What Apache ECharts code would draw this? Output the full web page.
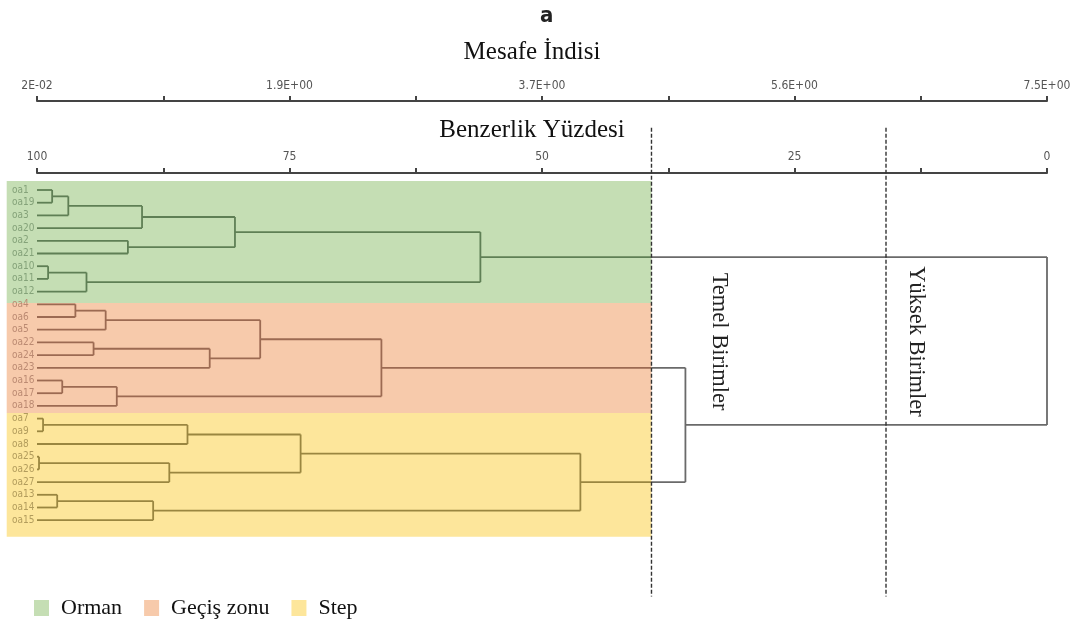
<!DOCTYPE html>
<html><head><meta charset="utf-8">
<script src="https://cdn.jsdelivr.net/npm/echarts@6/dist/echarts.min.js"></script>
<style>html,body{margin:0;padding:0;background:#fff}#c{width:1075px;height:630px}</style>
</head><body><div id="c"></div><script>
// ---- data ----
const leaves = ['oa1','oa19','oa3','oa20','oa2','oa21','oa10','oa11','oa12',
  'oa4','oa6','oa5','oa22','oa24','oa23','oa16','oa17','oa18',
  'oa7','oa9','oa8','oa25','oa26','oa27','oa13','oa14','oa15'];
// [child A, child B, similarity %]; a number refers to an earlier merge
const merges = [
  ['oa1','oa19',98.5], [0,'oa3',96.9], [1,'oa20',89.6], ['oa2','oa21',91.0],
  [2,3,80.4], ['oa10','oa11',98.9], [5,'oa12',95.1], [4,6,56.1],
  ['oa4','oa6',96.2], [8,'oa5',93.2], ['oa22','oa24',94.4], [10,'oa23',82.9],
  [9,11,77.9], ['oa16','oa17',97.5], [13,'oa18',92.1], [12,14,65.9],
  ['oa7','oa9',99.4], [16,'oa8',85.1], ['oa25','oa26',99.8], [18,'oa27',86.9],
  [17,19,73.9], ['oa13','oa14',98.0], [21,'oa15',88.5], [20,22,46.2],
  [15,23,35.8], [7,24,0.0]
];
const distTickLabels = ['2E-02','1.9E+00','3.7E+00','5.6E+00','7.5E+00'];
const simTickLabels = ['100','75','50','25','0'];
const groupNames = ['Orman','Geçiş zonu','Step'];
const groupRows = [[-0.7, 8.9], [8.9, 17.56], [17.56, 27.3]];
const cutLevels = [39.16, 15.94];
const cutNames = ['Temel Birimler', 'Yüksek Birimler'];
const cutLabelAt = [32.5, 13.0];

// ---- styles ----
const groupColors = ['#c5deb4', '#f7caab', '#fde69b'];
const groupLineColors = ['#5f7f55', '#9c6a52', '#9a8640'];
const groupLabelColors = ['#84a279', '#bb8a72', '#b29c5c'];
const PLAIN_LINE = '#6a6a6a';
const SERIF = "'Liberation Serif','Times New Roman',serif";
const NARROW = "'Liberation Sans Narrow','DejaVu Sans Condensed','Arial Narrow',sans-serif";
const BAND_LEFT = 103;
const CUT_TOP = -4.9, CUT_BOTTOM = 32.0, CUT_LABEL_ROW = 11.93;

// ---- layout of dendrogram nodes ----
const mergeY = [];
function pos(ref) {
  if (typeof ref === 'string') return [100, leaves.indexOf(ref)];
  return [merges[ref][2], mergeY[ref]];
}
const linkData = merges.map((m, i) => {
  const a = pos(m[0]), b = pos(m[1]);
  mergeY[i] = (a[1] + b[1]) / 2;
  return [a[0], a[1], b[0], b[1], m[2]];
});
function groupOfRow(r) {
  for (let i = 0; i < groupRows.length; i++) if (r >= groupRows[i][0] && r < groupRows[i][1]) return i;
  return -1;
}
function colorAt(sim, row) {
  const g = groupOfRow(row);
  return (g >= 0 && sim >= cutLevels[0]) ? groupLineColors[g] : PLAIN_LINE;
}

const chart = echarts.init(document.getElementById('c'));
const topAxisCommon = {
  type: 'value', position: 'top',
  axisLine: {lineStyle: {color: '#444', width: 2}},
  axisTick: {length: 5, lineStyle: {color: '#444', width: 2}},
  splitLine: {show: false},
  nameLocation: 'middle',
  nameTextStyle: {fontFamily: SERIF, fontSize: 25, color: '#111', padding: [0, 20, 0, 0]}
};
function lineEl(x1, y1, x2, y2, c) {
  return {type: 'line', shape: {x1: x1, y1: y1, x2: x2, y2: y2},
    style: {stroke: c, lineWidth: 1.8}};
}
const option = {
  backgroundColor: '#fff',
  animation: false,
  title: {text: 'a', left: 535, top: 0,
    textStyle: {fontFamily: NARROW, fontWeight: 'bold', fontSize: 22, color: '#222'}},
  legend: {data: groupNames, left: 29, top: 592, icon: 'rect', itemWidth: 15, itemHeight: 16,
    itemGap: 22, selectedMode: false,
    textStyle: {fontFamily: SERIF, fontSize: 22, color: '#111', padding: [0, 0, 0, 7]}},
  grid: [
    {left: 37, right: 28, top: 100, height: 1},
    {left: 37, right: 28, top: 172, height: 1},
    {left: 37, right: 28, top: 177.3, height: 368.3}
  ],
  xAxis: [
    Object.assign({}, topAxisCommon, {gridIndex: 0, min: 0, max: 8, interval: 1,
      name: 'Mesafe İndisi', nameGap: 35,
      axisLabel: {formatter: v => (v % 2 === 0 ? distTickLabels[v / 2] : ''), margin: 8,
        color: '#555', fontFamily: NARROW, fontSize: 12}}),
    Object.assign({}, topAxisCommon, {gridIndex: 1, min: 0, max: 100, interval: 12.5, inverse: true,
      name: 'Benzerlik Yüzdesi', nameGap: 29,
      axisLabel: {formatter: v => (v % 25 === 0 ? simTickLabels[(100 - v) / 25] : ''), margin: 9,
        color: '#555', fontFamily: NARROW, fontSize: 12}}),
    {gridIndex: 2, type: 'value', min: 0, max: 100, inverse: true, show: false}
  ],
  yAxis: [
    {gridIndex: 0, type: 'value', show: false},
    {gridIndex: 1, type: 'value', show: false},
    {gridIndex: 2, type: 'value', inverse: true, min: -1, max: 28, interval: 1,
      axisLine: {show: false}, axisTick: {show: false}, splitLine: {show: false},
      axisLabel: {formatter: v => leaves[v] || '', align: 'left', margin: 25,
        color: (v) => { const g = groupOfRow(Number(v)); return g >= 0 ? groupLabelColors[g] : '#999'; },
        fontSize: 10, fontFamily: NARROW}}
  ],
  series: groupNames.map((name, i) => ({
    type: 'custom', name: name, xAxisIndex: 2, yAxisIndex: 2, z: -1, silent: true,
    itemStyle: {color: groupColors[i]},
    data: [[BAND_LEFT, cutLevels[0], groupRows[i][0], groupRows[i][1]]],
    renderItem: (p, api) => {
      const p0 = api.coord([api.value(0), api.value(2)]);
      const p1 = api.coord([api.value(1), api.value(3)]);
      return {type: 'rect', z2: -10,
        shape: {x: p0[0], y: p0[1], width: p1[0] - p0[0], height: p1[1] - p0[1]},
        style: {fill: groupColors[i]}};
    }
  })).concat([
    {
      type: 'custom', name: 'links', xAxisIndex: 2, yAxisIndex: 2, z: 2, silent: true,
      data: linkData,
      renderItem: (p, api) => {
        const ax = api.value(0), ay = api.value(1), bx = api.value(2), by = api.value(3), px = api.value(4);
        const cut = cutLevels[0];
        const children = [];
        [[ax, ay], [bx, by]].forEach(([cx, cy]) => {
          const s = api.coord([cx, cy]), e = api.coord([px, cy]);
          if (cx > cut && px < cut) {
            const m = api.coord([cut, cy]);
            children.push(lineEl(s[0], s[1], m[0], m[1], colorAt(cx, cy)));
            children.push(lineEl(m[0], m[1], e[0], e[1], PLAIN_LINE));
          } else {
            children.push(lineEl(s[0], s[1], e[0], e[1], colorAt(cx, cy)));
          }
        });
        const v0 = api.coord([px, ay]), v1 = api.coord([px, by]);
        children.push(lineEl(v0[0], v0[1], v1[0], v1[1], colorAt(px, (ay + by) / 2)));
        return {type: 'group', children: children};
      }
    },
    {
      type: 'custom', name: 'cuts', xAxisIndex: 2, yAxisIndex: 2, z: 20, silent: true,
      data: cutLevels.map((c, i) => [c, cutLabelAt[i]]),
      renderItem: (p, api) => {
        const t = api.coord([api.value(0), CUT_TOP]);
        const b = api.coord([api.value(0), CUT_BOTTOM]);
        const lp = api.coord([api.value(1), CUT_LABEL_ROW]);
        return {type: 'group', children: [
          {type: 'line', shape: {x1: t[0], y1: t[1], x2: b[0], y2: b[1]},
            style: {stroke: '#333', lineWidth: 1.4, lineDash: [4, 2]}},
          {type: 'text', x: lp[0], y: lp[1], rotation: -Math.PI / 2,
            style: {text: cutNames[p.dataIndex], x: 0, y: 0, align: 'center', verticalAlign: 'middle',
              fontFamily: SERIF, fontSize: 22.5, fill: '#222'}}
        ]};
      }
    }
  ])
};
chart.setOption(option);
</script></body></html>
